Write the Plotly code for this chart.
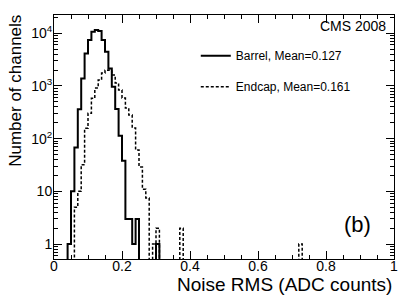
import numpy as np
import plotly.graph_objects as go

# ---------------- data ----------------
bin_width = 0.01
barrel_bin_lo = [0.04, 0.05, 0.06, 0.07, 0.08, 0.09, 0.10, 0.11, 0.12, 0.13,
                 0.14, 0.15, 0.16, 0.17, 0.18, 0.19, 0.20, 0.21, 0.22, 0.23,
                 0.24, 0.30]
barrel_counts = [1, 10, 68, 360, 1390, 4150, 7430, 10700, 11500, 11000,
                 7430, 4460, 2150, 966, 365, 113, 38, 3, 3, 1,
                 3, 1]

endcap_bin_lo = [0.06, 0.07, 0.08, 0.09, 0.10, 0.11, 0.12, 0.13, 0.14, 0.15,
                 0.16, 0.17, 0.18, 0.19, 0.20, 0.21, 0.22, 0.23, 0.24, 0.25,
                 0.26, 0.27, 0.29, 0.30, 0.37, 0.72]
endcap_counts = [5, 10, 32, 157, 302, 582, 912, 1295, 1757, 1995,
                 2000, 1610, 1135, 836, 590, 380, 280, 160, 61, 29,
                 11, 7.5, 1, 2, 2, 1]

barrel_label = "Barrel, Mean=0.127"
endcap_label = "Endcap, Mean=0.161"
x_title = "Noise RMS (ADC counts)"
y_title = "Number of channels"
x_tickvals = [0, 0.2, 0.4, 0.6, 0.8, 1]
x_ticktext = ["0", "0.2", "0.4", "0.6", "0.8", "1"]
y_tickvals = [1, 10, 100, 1000, 10000]
y_ticktext = ["1", "10", "10<sup>2</sup>", "10<sup>3</sup>", "10<sup>4</sup>"]

# ---------------- build full histograms ----------------
n_bins = 100
edges = np.round(np.arange(n_bins + 1) * bin_width, 4)
floor_val = 1e-3  # empty bins drawn below the axis (clipped), like ROOT


def full_hist(lo, counts):
    h = np.full(n_bins, floor_val)
    for l, c in zip(lo, counts):
        h[int(round(l / bin_width))] = c
    return np.append(h, h[-1])


barrel_y = full_hist(barrel_bin_lo, barrel_counts)
endcap_y = full_hist(endcap_bin_lo, endcap_counts)

FONT = "Liberation Sans, Arial, Helvetica, sans-serif"

fig = go.Figure()
fig.add_trace(go.Scatter(x=edges, y=barrel_y, mode="lines", line_shape="hv",
                         line=dict(color="black", width=2),
                         name=barrel_label, legendgroup="a"))
fig.add_trace(go.Scatter(x=edges, y=endcap_y, mode="lines", line_shape="hv",
                         line=dict(color="black", width=1.5, dash="3px,2px"),
                         name=endcap_label, legendgroup="b"))

minor_y = [m * 10 ** d for d in range(0, 5) for m in range(2, 10)] + [0.6, 0.7, 0.8, 0.9, 20000]

# the page body has an 8px margin, so the figure is sized to fill the rest
fig.update_layout(
    width=407, height=290,
    margin=dict(l=46, r=21, t=7, b=39),
    paper_bgcolor="white", plot_bgcolor="white",
    font=dict(family=FONT, color="black", size=14),
    showlegend=True,
    legend=dict(x=0.417, y=0.8925, xanchor="left", yanchor="top",
                bgcolor="rgba(0,0,0,0)", font=dict(size=12),
                tracegroupgap=12, traceorder="grouped"),
    xaxis=dict(range=[0, 1], tickvals=x_tickvals, ticktext=x_ticktext,
               ticks="inside", ticklen=8, tickwidth=1, tickcolor="black",
               showline=True, linecolor="black", linewidth=1, mirror="ticks",
               showgrid=False, zeroline=False, automargin=False,
               ticklabelstandoff=-6,
               minor=dict(tickvals=[0.05, 0.1, 0.15, 0.25, 0.3, 0.35, 0.45, 0.5, 0.55,
                                    0.65, 0.7, 0.75, 0.85, 0.9, 0.95],
                          ticks="inside", ticklen=4, tickcolor="black", showgrid=False),
               tickfont=dict(size=14)),
    yaxis=dict(type="log", range=[np.log10(0.52), np.log10(22200)],
               tickvals=y_tickvals, ticktext=y_ticktext,
               ticks="inside", ticklen=8, tickwidth=1, tickcolor="black",
               showline=True, linecolor="black", linewidth=1, mirror="ticks",
               showgrid=False, zeroline=False, automargin=False,
               ticklabelstandoff=-2,
               minor=dict(tickvals=minor_y, ticks="inside", ticklen=4,
                          tickcolor="black", showgrid=False),
               tickfont=dict(size=14)),
)

fig.add_annotation(text=x_title, xref="paper", yref="paper", x=1.0, y=-0.106,
                   xanchor="right", yanchor="middle", showarrow=False,
                   font=dict(size=19))
fig.add_annotation(text=y_title, xref="paper", yref="paper", x=-0.112, y=0.689,
                   xanchor="center", yanchor="middle", showarrow=False,
                   textangle=-90, font=dict(size=17))
fig.add_annotation(text="CMS 2008", xref="paper", yref="paper", x=1.0, y=1.0,
                   xanchor="right", yanchor="top", showarrow=False,
                   font=dict(size=14), xshift=-6, yshift=-1)
fig.add_annotation(text="(b)", xref="paper", yref="paper", x=0.938, y=0.14,
                   xanchor="right", yanchor="middle", showarrow=False,
                   font=dict(size=22))

fig.write_html("out.html")
